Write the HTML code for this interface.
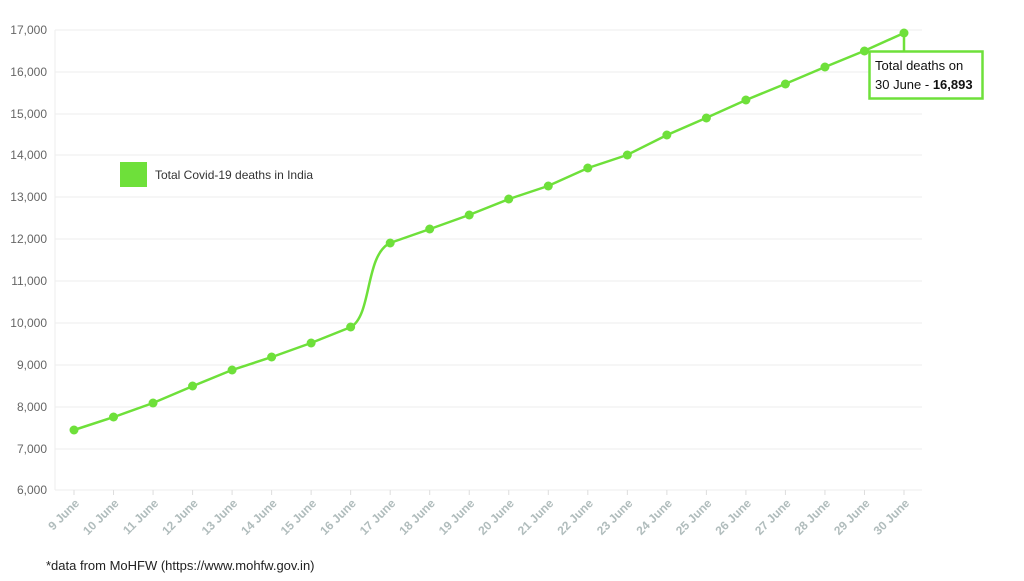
<!DOCTYPE html>
<html><head><meta charset="utf-8"><style>
body{margin:0;background:#fff;width:1024px;height:576px;overflow:hidden;font-family:"Liberation Sans",sans-serif}
</style></head><body>
<svg width="1024" height="576" xmlns="http://www.w3.org/2000/svg" font-family="Liberation Sans, sans-serif">
<g stroke="#eeeeee" stroke-width="1">
<line x1="55" y1="30" x2="922" y2="30"/><line x1="55" y1="72" x2="922" y2="72"/><line x1="55" y1="114" x2="922" y2="114"/><line x1="55" y1="155" x2="922" y2="155"/><line x1="55" y1="197" x2="922" y2="197"/><line x1="55" y1="239" x2="922" y2="239"/><line x1="55" y1="281" x2="922" y2="281"/><line x1="55" y1="323" x2="922" y2="323"/><line x1="55" y1="365" x2="922" y2="365"/><line x1="55" y1="407" x2="922" y2="407"/><line x1="55" y1="449" x2="922" y2="449"/><line x1="55" y1="490" x2="922" y2="490"/>
<line x1="55" y1="30" x2="55" y2="490"/>
</g>
<g font-size="12" fill="#666" text-anchor="end">
<text x="47" y="34">17,000</text><text x="47" y="76">16,000</text><text x="47" y="118">15,000</text><text x="47" y="159">14,000</text><text x="47" y="201">13,000</text><text x="47" y="243">12,000</text><text x="47" y="285">11,000</text><text x="47" y="327">10,000</text><text x="47" y="369">9,000</text><text x="47" y="411">8,000</text><text x="47" y="453">7,000</text><text x="47" y="494">6,000</text>
</g>
<g id="xl" font-size="12" fill="#b0bcbc" font-weight="bold" text-anchor="end"></g>
<path d="M74,430 L114,417 L153,403 L193,386 L232,370 L272,357 L311,343 L351,327 C372,315 365,255 390,243 L430,229 L469,215 L509,199 L548,186 L588,168 L627,155 L667,135 L706,118 L746,100 L785,84 L825,67 L864,51 L904,33" fill="none" stroke="#6ee03a" stroke-width="2.5"/>
<g id="pts" fill="#6ee03a"></g>
<line x1="904" y1="33" x2="904" y2="51" stroke="#6ee03a" stroke-width="2.5"/>
<rect x="869.5" y="51.5" width="113" height="47" fill="#fff" stroke="#6ee03a" stroke-width="2.5"/>
<text x="875" y="70" font-size="13" fill="#111">Total deaths on</text>
<text x="875" y="89" font-size="13" fill="#111">30 June - <tspan font-weight="bold">16,893</tspan></text>
<rect x="120" y="162" width="27" height="25" fill="#6ee03a"/>
<text x="155" y="179" font-size="12" fill="#333">Total Covid-19 deaths in India</text>
<text x="46" y="570" font-size="13" fill="#222">*data from MoHFW (https://www.mohfw.gov.in)</text>
</svg>
<script>
var ys=[430,417,403,386,370,357,343,327,243,229,215,199,186,168,155,135,118,100,84,67,51,33];
var p=document.getElementById('pts'),xl=document.getElementById('xl'),ns="http://www.w3.org/2000/svg";
for(var i=0;i<22;i++){var x=74+i*(830/21);
var c=document.createElementNS(ns,'circle');c.setAttribute('cx',x);c.setAttribute('cy',ys[i]);c.setAttribute('r',4.5);p.appendChild(c);
var t=document.createElementNS(ns,'text');t.setAttribute('transform','translate('+(x+6)+',504) rotate(-45)');t.textContent=(9+i)+' June';xl.appendChild(t);
var l=document.createElementNS(ns,'line');l.setAttribute('x1',x);l.setAttribute('x2',x);l.setAttribute('y1',490);l.setAttribute('y2',495);l.setAttribute('stroke','#ddd');xl.appendChild(l);}
</script>
</body></html>
